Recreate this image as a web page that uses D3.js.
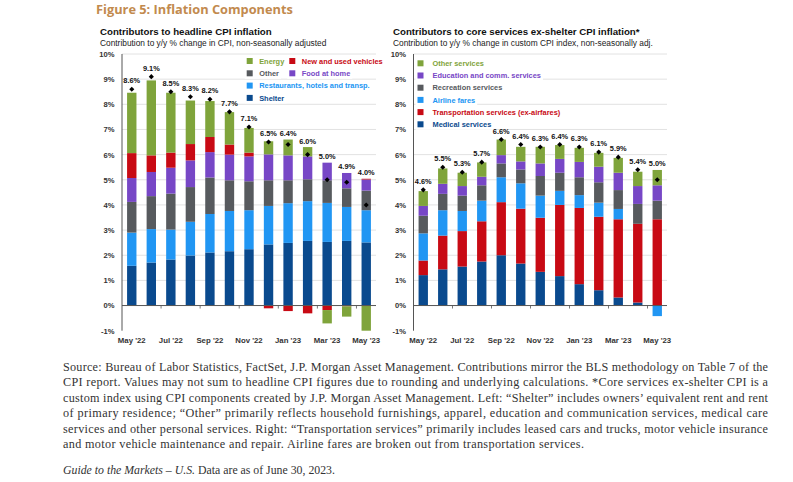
<!DOCTYPE html>
<html><head><meta charset="utf-8">
<script src="https://cdn.jsdelivr.net/npm/d3@7"></script>
<style>
html,body{margin:0;padding:0;background:#fff;}
svg{display:block;}
</style></head>
<body>
<svg id="chart" width="793" height="482"></svg>
<script>
// ---------- DATA ----------
const months = ["May '22","Jun '22","Jul '22","Aug '22","Sep '22","Oct '22","Nov '22","Dec '22","Jan '23","Feb '23","Mar '23","Apr '23","May '23"];
const monthTickLabels = ["May '22","Jul '22","Sep '22","Nov '22","Jan '23","Mar '23","May '23"];
const yTicks = [-1,0,1,2,3,4,5,6,7,8,9,10];

// Left: headline CPI contributions (bottom to top)
const leftSeries = ["Shelter","Restaurants, hotels and transp.","Other","Food at home","New and used vehicles","Energy"];
const shelter     = [1.58,1.71,1.83,1.99,2.11,2.16,2.24,2.43,2.49,2.57,2.53,2.57,2.51];
const restaurants = [1.32,1.33,1.19,1.34,1.53,1.60,1.55,1.53,1.58,1.58,1.55,1.35,1.28];
const otherHead   = [1.22,1.31,1.43,1.38,1.45,1.22,1.15,1.02,0.91,0.87,0.90,0.74,0.78];
const foodAtHome  = [0.95,0.96,1.03,1.06,1.01,1.02,0.99,1.03,0.99,0.91,0.70,0.61,0.44];
const vehicles    = [0.99,0.66,0.60,0.65,0.60,0.40,0.15,-0.11,-0.22,-0.31,-0.18,-0.03,0.03];
const energy      = [2.40,2.98,2.38,1.73,1.43,1.29,0.98,0.52,0.63,0.37,-0.53,-0.41,-1.00];
const headlineTotal = [8.6,9.1,8.5,8.3,8.2,7.7,7.1,6.5,6.4,6.0,5.0,4.9,4.0];

// Right: core services ex-shelter contributions (bottom to top)
const rightSeries = ["Medical services","Transportation services (ex-airfares)","Airline fares","Recreation services","Education and comm. services","Other services"];
const medical        = [1.21,1.44,1.55,1.75,2.00,1.67,1.34,1.17,0.85,0.61,0.32,0.12,0.00];
const transportation = [0.58,1.34,1.41,1.60,2.11,2.18,2.15,2.83,3.03,2.92,3.11,3.13,3.43];
const airline        = [1.08,1.01,0.80,0.82,0.99,1.01,0.88,0.56,0.51,0.56,0.41,0.00,-0.42];
const recreation     = [0.70,0.65,0.61,0.61,0.55,0.55,0.78,0.72,0.71,0.81,0.75,0.79,0.74];
const education      = [0.39,0.40,0.38,0.34,0.33,0.32,0.50,0.55,0.61,0.62,0.69,0.71,0.61];
const otherServices  = [0.59,0.61,0.53,0.57,0.62,0.58,0.66,0.55,0.56,0.55,0.59,0.57,0.61];
const coreTotal = [4.6,5.5,5.3,5.7,6.6,6.4,6.3,6.4,6.3,6.1,5.9,5.4,5.0];

// ---------- STYLE ----------
const C = {
  darkBlue:"#0a4a8e", lightBlue:"#2196f3", grey:"#575a5e",
  purple:"#7747c6", red:"#c80a14", green:"#7fa43b"
};
const leftColors  = [C.darkBlue, C.lightBlue, C.grey, C.purple, C.red, C.green];
const rightColors = [C.darkBlue, C.red, C.lightBlue, C.grey, C.purple, C.green];
const SANS = "'Liberation Sans', Arial, sans-serif";

const svg = d3.select("#chart");

// Figure title
svg.append("text").attr("x",96).attr("y",14)
  .attr("font-family","'Open Sans', sans-serif").attr("font-weight",700)
  .attr("font-size",12.8).attr("fill","#c28a4e")
  .text("Figure 5: Inflation Components");

function drawPanel(opts){
  const g = svg.append("g");
  const y = d3.scaleLinear().domain([-1,10]).range([330.7,54]);
  const x = d3.scaleBand().domain(months).range([opts.x0, opts.x1]).paddingInner(0.52).paddingOuter(0.26);

  // titles
  g.append("text").attr("x",opts.tx).attr("y",35).attr("font-family",SANS).attr("font-weight",700)
    .attr("font-size",9.7).attr("fill","#111").text(opts.title);
  g.append("text").attr("x",opts.tx).attr("y",46.3).attr("font-family",SANS)
    .attr("font-size",8.35).attr("fill","#222").text(opts.subtitle);

  // gridlines
  g.append("g").selectAll("line").data(yTicks.filter(d=>d>0)).join("line")
    .attr("x1",opts.x0).attr("x2",opts.gx1).attr("y1",d=>y(d)).attr("y2",d=>y(d))
    .attr("stroke","#e2e2e2").attr("stroke-width",1);

  // y axis labels
  const ya = g.append("g").attr("transform",`translate(${opts.x0},0)`)
    .call(d3.axisLeft(y).tickValues(yTicks).tickFormat(d=>d+"%").tickSize(0).tickPadding(7.5));
  ya.select(".domain").remove();
  ya.selectAll("text").attr("font-family",SANS).attr("font-weight",700).attr("font-size",7.6).attr("fill","#333");

  // stacked bars
  const table = months.map((m,i)=>{
    const o = {month:m};
    opts.series.forEach((s,k)=>{ o[s] = opts.values[k][i]; });
    return o;
  });
  const stacked = d3.stack().keys(opts.series).offset(d3.stackOffsetDiverging)(table);
  g.append("g").selectAll("g").data(stacked).join("g")
    .attr("fill",(d,k)=>opts.colors[k])
    .selectAll("rect").data(d=>d).join("rect")
    .attr("x",d=>x(d.data.month)).attr("width",x.bandwidth())
    .attr("y",d=>y(Math.max(d[0],d[1]))).attr("height",d=>Math.abs(y(d[0])-y(d[1])));

  // axis line & zero line
  g.append("line").attr("x1",opts.x0).attr("x2",opts.x0).attr("y1",y(10)).attr("y2",y(-1))
    .attr("stroke","#555").attr("stroke-width",1);
  g.append("line").attr("x1",opts.x0).attr("x2",opts.x1).attr("y1",y(0)).attr("y2",y(0))
    .attr("stroke","#555").attr("stroke-width",1);
  const bounds = d3.range(2, months.length, 2).map(i=>x(months[i]) - x.step()*x.paddingInner()/2);
  g.append("g").selectAll("line").data(bounds).join("line")
    .attr("x1",d=>d).attr("x2",d=>d).attr("y1",y(0)).attr("y2",y(0)+3)
    .attr("stroke","#555").attr("stroke-width",0.8);

  // x axis labels
  const xa = g.append("g").attr("transform",`translate(0,${y(-1)})`)
    .call(d3.axisBottom(x).tickValues(monthTickLabels).tickSize(0).tickPadding(6.5));
  xa.select(".domain").remove();
  xa.selectAll("text").attr("font-family",SANS).attr("font-weight",700).attr("font-size",7.8).attr("fill","#333");

  // diamonds & totals
  const posTop = months.map((m,i)=>d3.sum(opts.values, v=>Math.max(0,v[i])));
  g.append("g").selectAll("path").data(opts.totals).join("path")
    .attr("d", d3.symbol(d3.symbolSquare, 13))
    .attr("transform",(d,i)=>`translate(${x(months[i])+x.bandwidth()/2},${y(d)}) rotate(45)`)
    .attr("fill","#000");
  g.append("g").selectAll("text").data(opts.totals).join("text")
    .attr("x",(d,i)=>x(months[i])+x.bandwidth()/2)
    .attr("y",(d,i)=>Math.min(y(posTop[i]), y(d)-2.5) - 3.5)
    .attr("text-anchor","middle").attr("font-family",SANS).attr("font-weight",700)
    .attr("font-size",7.4).attr("fill","#111")
    .text(d=>d.toFixed(1)+"%");

  // legend
  const lg = g.append("g");
  opts.legend.forEach(it=>{
    const k = opts.series.indexOf(it.name);
    const item = lg.append("g");
    const bg = item.append("rect").attr("fill","#fff");
    item.append("rect").attr("x",it.x).attr("y",it.y-3).attr("width",6).attr("height",6).attr("fill",opts.colors[k]);
    const t = item.append("text").attr("x",it.x+opts.legGap).attr("y",it.y+2.7)
      .attr("font-family",SANS).attr("font-weight",700).attr("font-size",7.4)
      .attr("fill",opts.colors[k]).text(it.name);
    const bb = t.node().getBBox();
    bg.attr("x",it.x-2).attr("y",it.y-5.5).attr("width",bb.x+bb.width-it.x+4).attr("height",11);
  });
}

drawPanel({
  x0:122, x1:376, gx1:376, tx:100,
  title:"Contributors to headline CPI inflation",
  subtitle:"Contribution to y/y % change in CPI, non-seasonally adjusted",
  series:leftSeries, colors:leftColors,
  values:[shelter,restaurants,otherHead,foodAtHome,vehicles,energy],
  totals:headlineTotal, legGap:12.5,
  legend:[
    {name:"Energy", x:246.7, y:61},
    {name:"New and used vehicles", x:289.3, y:61},
    {name:"Other", x:246.7, y:73.3},
    {name:"Food at home", x:289.3, y:73.3},
    {name:"Restaurants, hotels and transp.", x:246.7, y:85.6},
    {name:"Shelter", x:246.7, y:97.9}
  ]
});

drawPanel({
  x0:413.5, x1:667, gx1:667, tx:393,
  title:"Contributors to core services ex-shelter CPI inflation*",
  subtitle:"Contribution to y/y % change in custom CPI index, non-seasonally adj.",
  series:rightSeries, colors:rightColors,
  values:[medical,transportation,airline,recreation,education,otherServices],
  totals:coreTotal, legGap:15,
  legend:[
    {name:"Other services", x:417.5, y:63.3},
    {name:"Education and comm. services", x:417.5, y:75.5},
    {name:"Recreation services", x:417.5, y:87.7},
    {name:"Airline fares", x:417.5, y:99.9},
    {name:"Transportation services (ex-airfares)", x:417.5, y:112.1},
    {name:"Medical services", x:417.5, y:124.3}
  ]
});

// Footnote (justified paragraph)
const noteLines = [
  "Source: Bureau of Labor Statistics, FactSet, J.P. Morgan Asset Management. Contributions mirror the BLS methodology on Table 7 of the",
  "CPI report. Values may not sum to headline CPI figures due to rounding and underlying calculations. *Core services ex-shelter CPI is a",
  "custom index using CPI components created by J.P. Morgan Asset Management. Left: \u201CShelter\u201D includes owners\u2019 equivalent rent and rent",
  "of primary residence; \u201COther\u201D primarily reflects household furnishings, apparel, education and communication services, medical care",
  "services and other personal services. Right: \u201CTransportation services\u201D primarily includes leased cars and trucks, motor vehicle insurance",
  "and motor vehicle maintenance and repair. Airline fares are broken out from transportation services."
];
const SERIF = "'Liberation Serif', 'DejaVu Serif', serif";
svg.append("g").selectAll("text").data(noteLines).join("text")
  .attr("x",63).attr("y",(d,i)=>370.5+i*15.5)
  .attr("font-family",SERIF).attr("font-size",12.2).attr("fill","#333")
  .attr("textLength",(d,i)=> i<5 ? 705 : 521)
  .attr("lengthAdjust","spacing")
  .text(d=>d);
const guide = svg.append("text").attr("x",63).attr("y",473.5)
  .attr("font-family",SERIF).attr("font-size",11.8).attr("fill","#333");
guide.append("tspan").attr("font-style","italic").text("Guide to the Markets \u2013 U.S.");
guide.append("tspan").text(" Data are as of June 30, 2023.");
</script>
</body></html>
